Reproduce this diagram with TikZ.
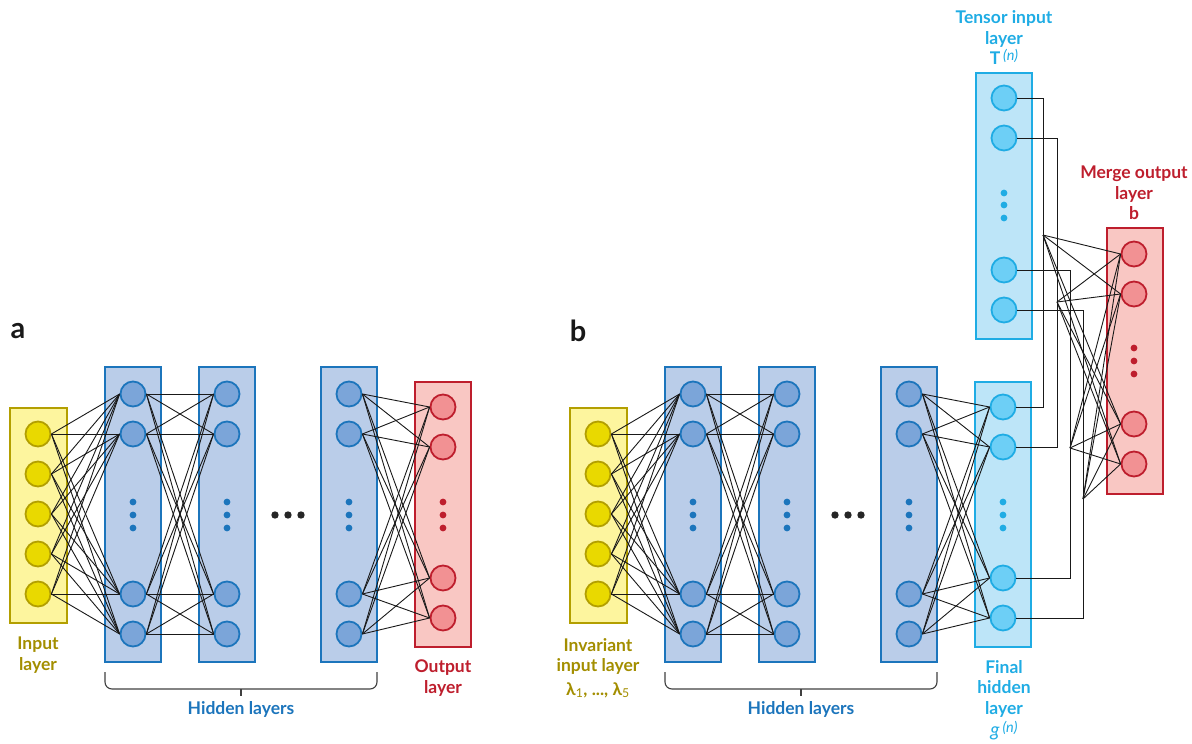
\documentclass[tikz,border=0pt]{standalone}
\usepackage{fontspec}
\setmainfont{Lato}
\definecolor{infill}{HTML}{FDF59E}
\definecolor{inedge}{HTML}{B39F00}
\definecolor{innode}{HTML}{E9D900}
\definecolor{intext}{HTML}{A38E00}
\definecolor{hidfill}{HTML}{BACDE9}
\definecolor{hidedge}{HTML}{1C75BC}
\definecolor{hidnode}{HTML}{7BA5D9}
\definecolor{outfill}{HTML}{F9C7C3}
\definecolor{outedge}{HTML}{BE1E2D}
\definecolor{outnode}{HTML}{F29193}
\definecolor{tenfill}{HTML}{BDE5F8}
\definecolor{tenedge}{HTML}{1FACE4}
\definecolor{tennode}{HTML}{6DCFF6}
\newcommand{\upn}{\raisebox{4.5pt}{\fontsize{14.5}{14.5}\selectfont\mdseries\itshape (n)}}
\begin{document}
\begin{tikzpicture}[x=1pt, y=-1pt,
  unit/.style={circle, draw, minimum size=25pt, inner sep=0pt, line width=1.8pt},
  inunit/.style={unit, draw=inedge, fill=innode},
  hidunit/.style={unit, draw=hidedge, fill=hidnode},
  outunit/.style={unit, draw=outedge, fill=outnode},
  tenunit/.style={unit, draw=tenedge, fill=tennode},
  inbox/.style={draw=inedge, fill=infill, line width=2.2pt},
  hidbox/.style={draw=hidedge, fill=hidfill, line width=2.2pt},
  outbox/.style={draw=outedge, fill=outfill, line width=2.2pt},
  tenbox/.style={draw=tenedge, fill=tenfill, line width=2.2pt},
  link/.style={line width=0.9pt, black!90},
  brace/.style={line width=1.1pt, black!75, rounded corners=7pt},
  lbl/.style={font=\fontsize{17.5}{20.5}\selectfont\bfseries, align=center, inner sep=0pt},
  letter/.style={font=\fontsize{29}{30}\selectfont\bfseries, text=black!90, inner sep=0pt}]
\useasboundingbox (0,0) rectangle (1192,744);

% the two panels share input, hidden and last layer
\foreach \p/\dx/\lbox/\lunit/\ldot in {a/0/outbox/outunit/outedge, b/560/tenbox/tenunit/tenedge}
{
    \node[letter] (\p-tag) at ({\dx+18},331) {\p};
    % input layer
    \draw[inbox] ({\dx+10},408) rectangle ({\dx+67},623);
    \foreach \i in {1,...,5}
        \node[inunit] (\p-in-\i) at ({\dx+38},{394+40*\i}) {};
    % hidden layers
    \foreach \l/\hx in {1/133, 2/227, 3/349}
    {
        \draw[hidbox] ({\dx+\hx-28},367) rectangle ({\dx+\hx+28},662);
        \foreach \i/\y in {1/394, 2/434, 3/594, 4/634}
            \node[hidunit] (\p-h\l-\i) at ({\dx+\hx},\y) {};
        \foreach \y in {502,515,528}
            \fill[hidedge] ({\dx+\hx},\y) circle (3.4);
    }
    \foreach \k in {0,1,2}
        \fill[black!85] ({\dx+275+13*\k},515) circle (3.7);
    % last layer
    \draw[\lbox] ({\dx+415},382) rectangle ({\dx+471},647);
    \foreach \i/\y in {1/407, 2/447, 3/578, 4/618}
        \node[\lunit] (\p-end-\i) at ({\dx+443},\y) {};
    \foreach \y in {502,515,528}
        \fill[\ldot] ({\dx+443},\y) circle (3.4);
    % connections
    \foreach \i in {1,...,5}
        \foreach \j in {1,...,4}
            \draw[link] (\p-in-\i.east) -- (\p-h1-\j.west);
    \foreach \i in {1,...,4}
        \foreach \j in {1,...,4}
        {
            \draw[link] (\p-h1-\i.east) -- (\p-h2-\j.west);
            \draw[link] (\p-h3-\i.east) -- (\p-end-\j.west);
        }
    % brace under the hidden layers
    \draw[brace] ({\dx+105},672) -- ({\dx+105},689) -- ({\dx+377},689) -- ({\dx+377},672);
    \draw[brace] ({\dx+241},689) -- ({\dx+241},696);
    \node[lbl, text=hidedge] (\p-hidlbl) at ({\dx+241},709) {Hidden layers};
}

% panel a labels
\node[lbl, text=intext] (a-inlbl) at (38,655) {Input\\layer};
\node[lbl, text=outedge] (a-outlbl) at (443,678) {Output\\layer};

% panel b labels
\node[lbl, text=intext] (b-inlbl) at (598,668)
    {Invariant\\input layer\\[3pt]λ\textsubscript{\mdseries 1}, ..., λ\textsubscript{\mdseries 5}};
\node[lbl, text=tenedge] (b-endlbl) at (1004,700)
    {Final\\hidden\\layer\\[2pt]{\fontsize{19}{20}\selectfont\mdseries\itshape g}\,\upn};

% tensor input layer
\draw[tenbox] (976,73) rectangle (1032,339);
\foreach \i/\y in {1/98, 2/138, 3/270, 4/310}
    \node[tenunit] (b-ten-\i) at (1004,\y) {};
\foreach \y in {193,205,218}
    \fill[tenedge] (1004,\y) circle (3.4);
\node[lbl, text=tenedge] (b-tenlbl) at (1004,38)
    {Tensor input\\layer\\T\,\upn};

% merge output layer
\draw[outbox] (1107,228) rectangle (1163,494);
\foreach \i/\y in {1/254, 2/294, 3/424, 4/464}
    \node[outunit] (b-mrg-\i) at (1134,\y) {};
\foreach \y in {348,361,374}
    \fill[outedge] (1134,\y) circle (3.4);
\node[lbl, text=outedge] (b-mrglbl) at (1134,193) {Merge output\\layer\\b};

% tensor times g, then into the merge layer
\coordinate (m1) at (1043,235);
\coordinate (m2) at (1057,302);
\coordinate (m3) at (1070,448);
\coordinate (m4) at (1083,499);
\foreach \i in {1,...,4}
{
    \draw[link] (b-ten-\i.east) -| (m\i) |- (b-end-\i.east);
    \foreach \j in {1,...,4}
        \draw[link] (m\i) -- (b-mrg-\j.west);
}
\end{tikzpicture}
\end{document}
